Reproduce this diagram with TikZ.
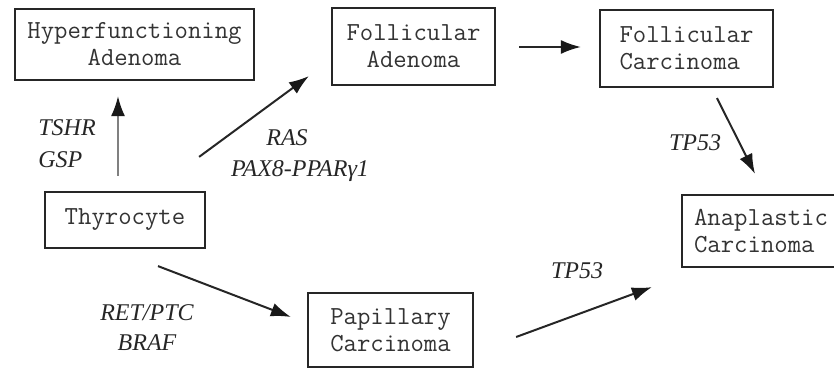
\documentclass[tikz,border=0pt]{standalone}
\usepackage{fontspec}
\setmainfont{Liberation Serif}
\usetikzlibrary{arrows.meta,calc}

\begin{document}
\begin{tikzpicture}[x=0.5pt, y=0.5pt,
  box/.style={rectangle, draw=black!85, line width=1.1pt, inner sep=0pt,
    align=center, text=black!80, font=\fontsize{13}{13.5}\selectfont\ttfamily},
  lbox/.style={box, align=left},
  gene/.style={inner sep=0pt, text=black!85, font=\fontsize{12}{16}\selectfont\itshape},
  arr/.style={-{Latex[length=10pt,width=7pt,color=black!90]}, line width=1pt, draw=black!85},
]
\useasboundingbox (0,0) rectangle (834,369);

% Boxes
\node[box, minimum width=119.5pt, minimum height=35.5pt] (hyper) at (134.5, 324.5) {Hyperfunctioning\\Adenoma};
\node[box, minimum width=81.5pt, minimum height=38.5pt] (fa) at (413.5, 322.5) {Follicular\\Adenoma};
\node[lbox, minimum width=86.5pt, minimum height=38.5pt] (fc) at (686.5, 320.5) {Follicular\\Carcinoma};
\node[box, minimum width=80pt, minimum height=28pt] (thy) at (125, 149) {Thyrocyte};
\node[lbox, minimum width=82.5pt, minimum height=37pt] (pc) at (390.5, 39) {Papillary\\Carcinoma};
\node[lbox, minimum width=79pt, minimum height=36pt] (ac) at (761, 138) {Anaplastic\\Carcinoma};

% Arrows
\draw[arr, draw=black!50] ($(thy.north)+(-7,15)$) -- ($(hyper.south)+(-16.5,-15)$);
\draw[arr] ($(thy.north east)+(-7,34)$) -- ($(fa.south west)+(-22,10)$);
\draw[arr] ($(fa.east)+(23,-0.5)$) -- ($(fc.west)+(-18,1.5)$);
\draw[arr] ($(fc.south)+(30.5,-10)$) -- ($(ac.north)+(-6,20)$);
\draw[arr] ($(thy.south)+(33,-17)$) -- ($(pc.west)+(-16,13)$);
\draw[arr] ($(pc.east)+(42,-7)$) -- ($(ac.south west)+(-29,-19)$);

% Gene labels
\node[gene, align=left, anchor=west] (tshr) at (38, 225) {TSHR\\GSP};
\node[gene] (ras) at (287, 231) {RAS};
\node[gene] (pax) at (300, 198) {PAX8-PPARγ1};
\node[gene] (tpa) at (695, 226) {TP53};
\node[gene] (tpb) at (577, 98) {TP53};
\node[gene, align=center, font=\fontsize{12}{15}\selectfont\itshape] (ret) at (147, 41) {RET/PTC\\BRAF};

\end{tikzpicture}
\end{document}
